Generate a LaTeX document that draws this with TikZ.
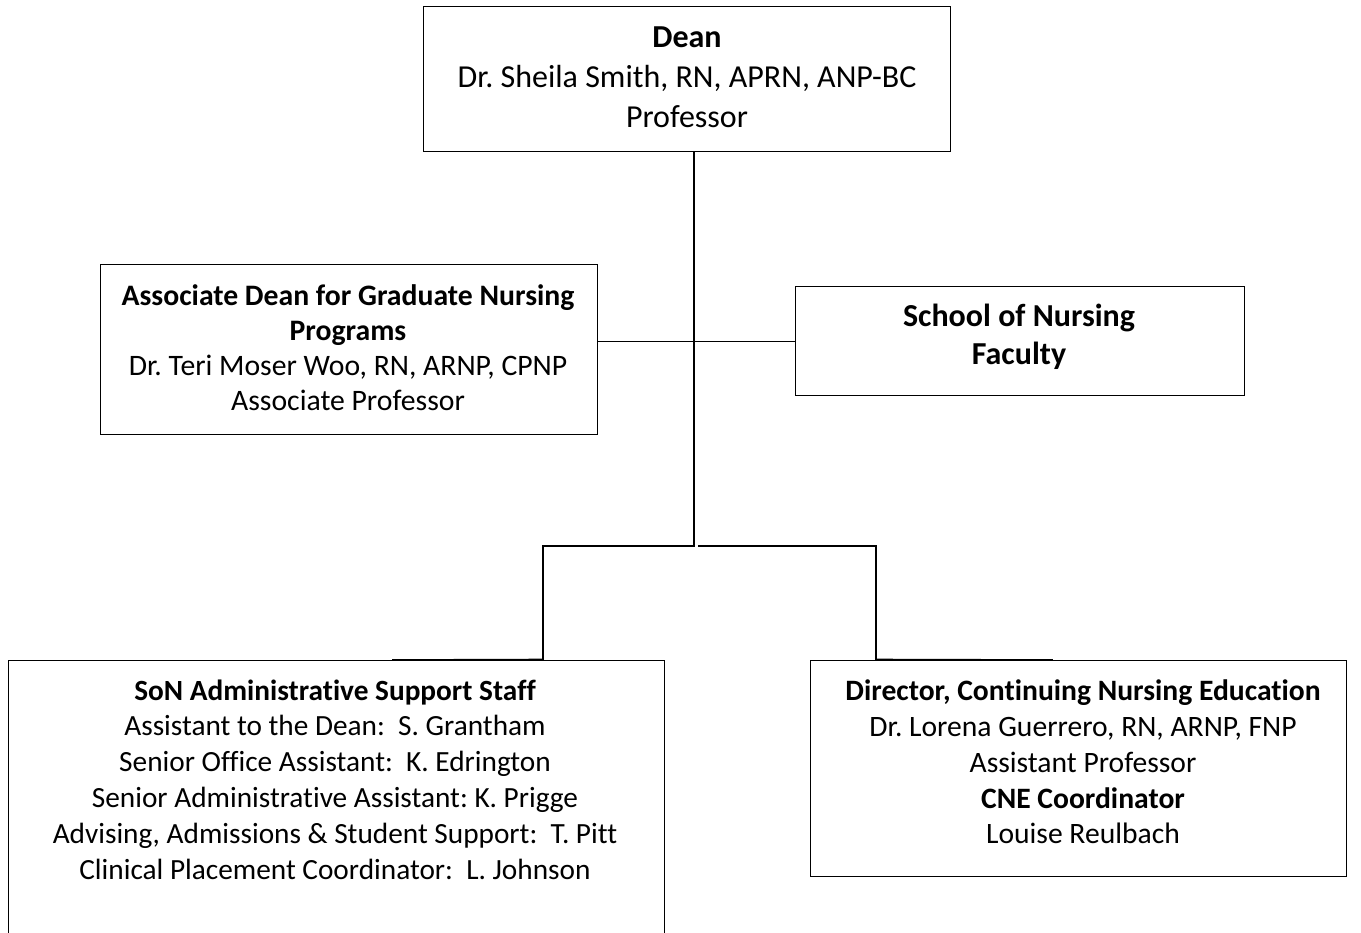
\documentclass[tikz,border=0pt]{standalone}
\usepackage{fontspec}
\setmainfont{Carlito}[Ligatures=CommonOff]
\frenchspacing
\begin{document}
\begin{tikzpicture}[x=1pt,y=-1pt,
  box/.style={draw=black, line width=1pt, inner sep=0pt},
  lbl/.style={align=center, inner sep=0pt},
  conn/.style={line width=1.6pt, line cap=rect}]
\clip (0,0) rectangle (1361,933);
\fill[white] (0,0) rectangle (1361,933);
% boxes
\node[box, minimum width=527, minimum height=145] (dean) at (686.5,79.5) {};
\node[box, minimum width=497, minimum height=169] (assoc) at (348.5,349.5) {};
\node[box, minimum width=449, minimum height=109] (fac) at (1019.5,341.5) {};
\node[box, minimum width=656, minimum height=300] (staff) at (336,810) {};
\node[box, minimum width=536, minimum height=216] (cne) at (1078,768) {};
% labels
\node[lbl, font=\fontsize{32}{40}\selectfont] (deant) at (687,77)
  {\textbf{Dean}\\Dr. Sheila Smith, RN, APRN, ANP-BC\\Professor};
\node[lbl, font=\fontsize{29.7}{35}\selectfont] (assoct) at (348,347.5)
  {\textbf{Associate Dean for Graduate Nursing}\\\textbf{Programs}\\Dr. Teri Moser Woo, RN, ARNP, CPNP\\Associate Professor};
\node[lbl, font=\fontsize{32}{38}\selectfont] (fact) at (1019,337)
  {\textbf{School of Nursing}\\\textbf{Faculty}};
\node[lbl, font=\fontsize{29.3}{35.8}\selectfont] (stafft) at (335,779.5)
  {\textbf{SoN Administrative Support Staff}\\
   Assistant to the Dean:\ \ S. Grantham\\
   Senior Office Assistant:\ \ K. Edrington\\
   Senior Administrative Assistant: K. Prigge\\
   Advising, Admissions \& Student Support:\ \ T. Pitt\\
   Clinical Placement Coordinator:\ \ L. Johnson};
\node[lbl, font=\fontsize{29.6}{35.8}\selectfont] (cnet) at (1083,762)
  {\textbf{Director, Continuing Nursing Education}\\
   Dr. Lorena Guerrero, RN, ARNP, FNP\\
   Assistant Professor\\
   \textbf{CNE Coordinator}\\
   Louise Reulbach};
% connector points
\coordinate (j1) at (694,546);
\coordinate (j2) at (699,546);
\coordinate (sl) at (543,546);
\coordinate (sr) at (876,546);
\coordinate (stl) at (393,660);
\coordinate (cnr) at (1052,660);
% connectors
\draw[conn] (dean.south -| j1) -- (j1) -- (sl) -- (sl |- staff.north) -- (stl);
\draw[conn] (j2) -- (sr) -- (sr |- cne.north) -- (cnr);
\draw[conn] (assoc.east |- fac.west) -- (fac.west);
\end{tikzpicture}
\end{document}
